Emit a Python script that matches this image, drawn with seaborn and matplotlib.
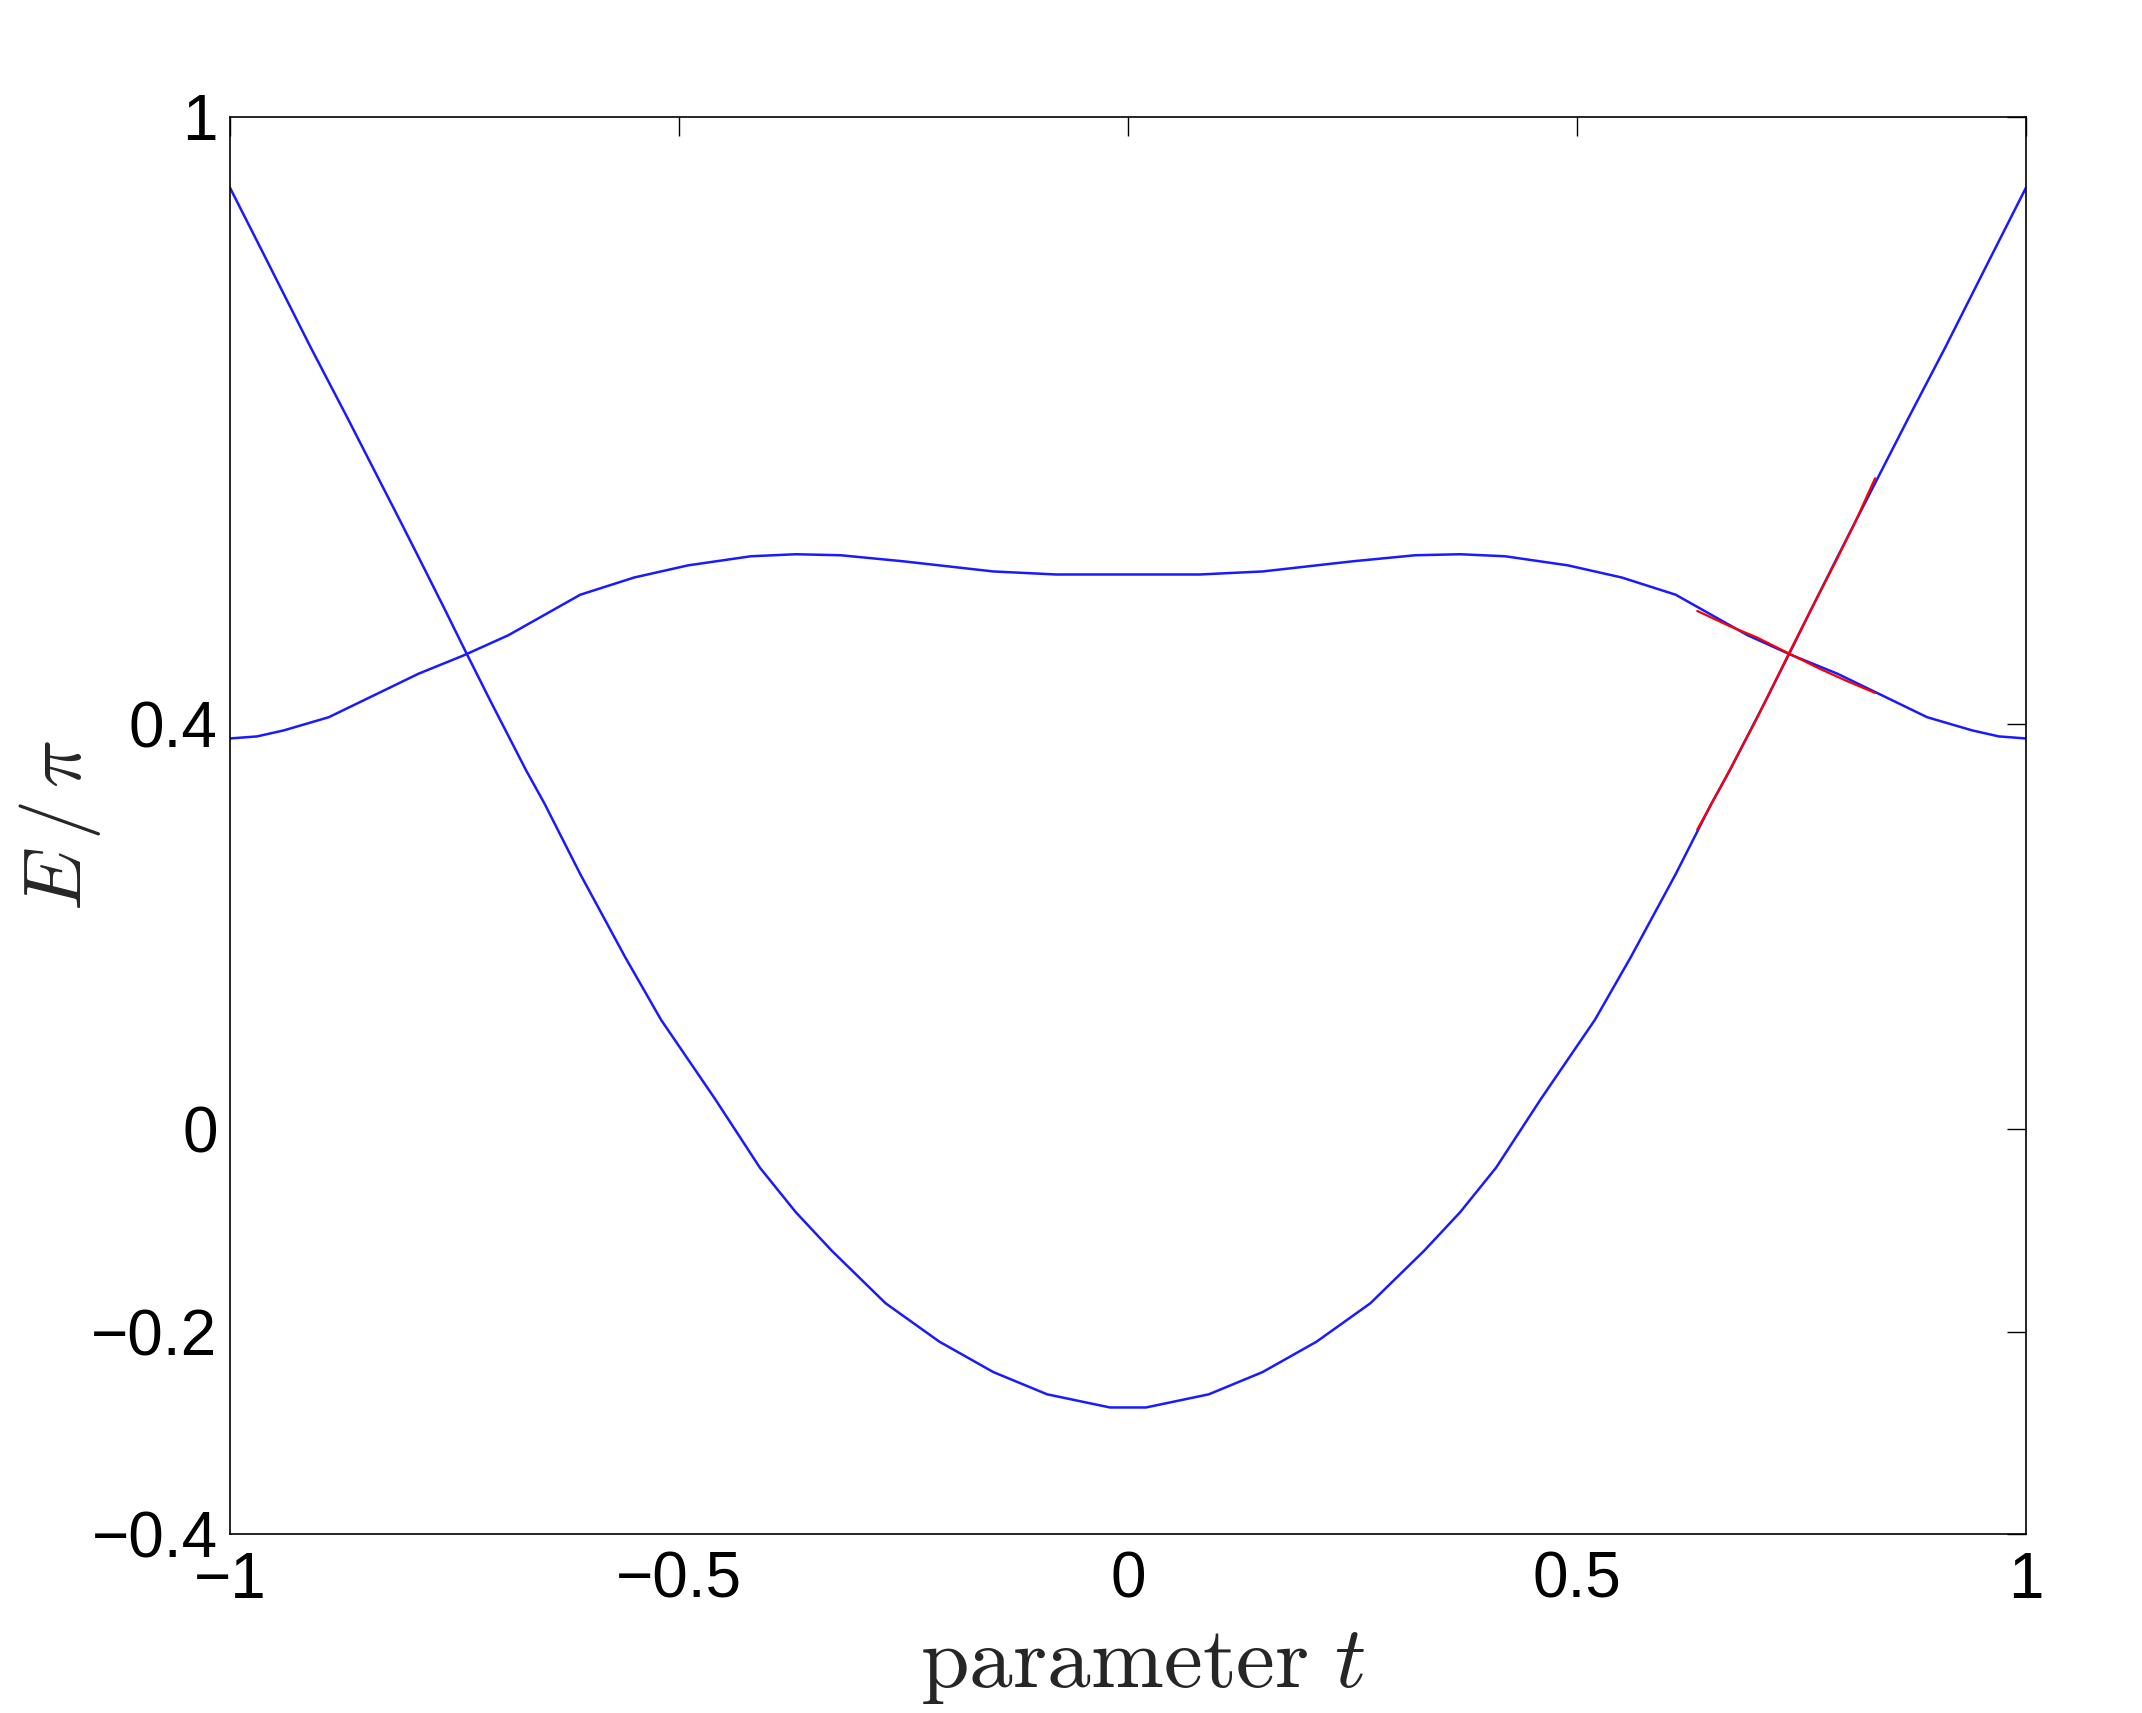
import matplotlib
matplotlib.use("Agg")
import matplotlib.pyplot as plt
import pandas as pd
import seaborn as sns

# lower (V-shaped) band
T_LOWER = [-1.00, -0.96, -0.91, -0.87, -0.84, -0.81, -0.79, -0.76, -0.74, -0.71,
           -0.67, -0.65, -0.61, -0.56, -0.52, -0.46, -0.41, -0.37, -0.33, -0.27,
           -0.21, -0.15, -0.09, -0.02, 0.02, 0.09, 0.15, 0.21, 0.27, 0.33,
           0.37, 0.41, 0.46, 0.52, 0.56, 0.61, 0.65, 0.67, 0.71, 0.74,
           0.76, 0.79, 0.81, 0.84, 0.87, 0.91, 0.96, 1.00]
E_LOWER = [0.930, 0.860, 0.772, 0.704, 0.652, 0.600, 0.565, 0.512, 0.476, 0.423,
           0.354, 0.322, 0.252, 0.170, 0.108, 0.030, -0.038, -0.082, -0.120, -0.172,
           -0.210, -0.240, -0.262, -0.275, -0.275, -0.262, -0.240, -0.210, -0.172, -0.120,
           -0.082, -0.038, 0.030, 0.108, 0.170, 0.252, 0.322, 0.354, 0.423, 0.476,
           0.512, 0.565, 0.600, 0.652, 0.704, 0.772, 0.860, 0.930]

# upper (flat) band
T_UPPER = [-1.00, -0.97, -0.94, -0.89, -0.79, -0.74, -0.69, -0.61, -0.55, -0.49,
           -0.42, -0.37, -0.32, -0.25, -0.20, -0.15, -0.08, 0.00, 0.08, 0.15,
           0.20, 0.25, 0.32, 0.37, 0.42, 0.49, 0.55, 0.61, 0.69, 0.74,
           0.79, 0.89, 0.94, 0.97, 1.00]
E_UPPER = [0.386, 0.388, 0.394, 0.407, 0.450, 0.468, 0.488, 0.528, 0.545, 0.557,
           0.566, 0.568, 0.567, 0.561, 0.556, 0.551, 0.548, 0.548, 0.548, 0.551,
           0.556, 0.561, 0.567, 0.568, 0.566, 0.557, 0.545, 0.528, 0.488, 0.468,
           0.450, 0.407, 0.394, 0.388, 0.386]

# red overlay near the right crossing
T_RED_RISE = [0.634, 0.66, 0.70, 0.736, 0.76, 0.79, 0.81, 0.832]
E_RED_RISE = [0.296, 0.338, 0.405, 0.470, 0.512, 0.564, 0.600, 0.643]
T_RED_FALL = [0.634, 0.67, 0.70, 0.736, 0.77, 0.80, 0.832]
E_RED_FALL = [0.512, 0.497, 0.486, 0.470, 0.455, 0.443, 0.431]

XTICKS = [-1, -0.5, 0, 0.5, 1]
XTICK_LABELS = ["\u22121", "\u22120.5", "0", "0.5", "1"]
YTICKS = [-0.4, -0.2, 0, 0.4, 1]
YTICK_LABELS = ["\u22120.4", "\u22120.2", "0", "0.4", "1"]


def main():
    sns.set_theme(style="white")
    plt.rcParams["font.family"] = ["Liberation Sans", "DejaVu Sans"]
    plt.rcParams["mathtext.fontset"] = "cm"

    fig, ax = plt.subplots(figsize=(21.42, 17.13), dpi=100)
    fig.subplots_adjust(left=0.1074, right=0.9458, bottom=0.1045, top=0.9317)

    lower = pd.DataFrame({"t": T_LOWER, "E": E_LOWER})
    upper = pd.DataFrame({"t": T_UPPER, "E": E_UPPER})
    rise = pd.DataFrame({"t": T_RED_RISE, "E": E_RED_RISE})
    fall = pd.DataFrame({"t": T_RED_FALL, "E": E_RED_FALL})

    for df in (lower, upper):
        sns.lineplot(data=df, x="t", y="E", color="#1a1aff", linewidth=1.8,
                     estimator=None, sort=False, ax=ax)
    for df in (rise, fall):
        sns.lineplot(data=df, x="t", y="E", color="#ff0000", linewidth=1.6,
                     estimator=None, sort=False, ax=ax)

    ax.set_xlim(-1, 1)
    ax.set_ylim(-0.4, 1)
    ax.set_xticks(XTICKS, labels=XTICK_LABELS)
    ax.set_yticks(YTICKS, labels=YTICK_LABELS)
    ax.tick_params(direction="in", length=14, width=1, top=True, right=True,
                   labelsize=46, colors="black")
    ax.tick_params(axis="x", pad=12)
    ax.tick_params(axis="y", pad=9)
    for sp in ax.spines.values():
        sp.set_color("black")
        sp.set_linewidth(1.2)

    ax.set_xlabel(r"$\mathrm{parameter}\ t$", fontsize=63)
    ax.set_ylabel(r"$E\,/\,\pi$", fontsize=58)
    ax.xaxis.set_label_coords(0.508, -0.064)
    ax.yaxis.set_label_coords(-0.071, 0.5)

    fig.savefig("out.png", dpi=100)
    plt.close(fig)


if __name__ == "__main__":
    main()
